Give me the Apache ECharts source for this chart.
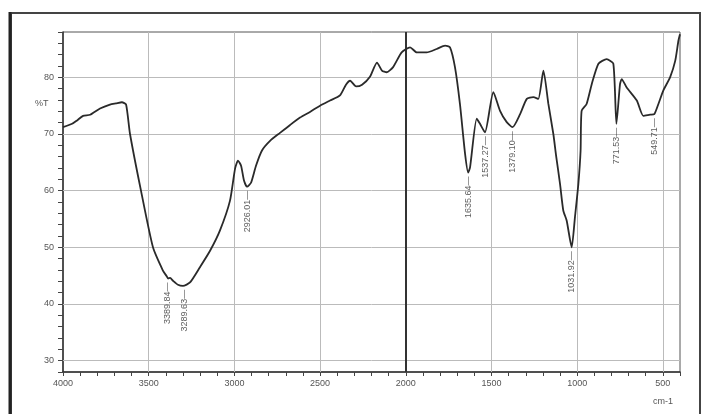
<!DOCTYPE html>
<html><head><meta charset="utf-8">
<script src="https://cdn.jsdelivr.net/npm/echarts@6/dist/echarts.min.js"></script>
<style>html,body{margin:0;padding:0;background:#fff}#c{width:706px;height:414px}</style>
</head><body><div id="c"></div>
<script>
// wavenumber (cm-1) and %T
const wavenumbers = [4000,3947,3918,3883,3842,3784,3726,3691,3656,3632,3609,3545,3475,3417,3395,3387,3375,3358,3329,3300,3259,3201,3142,3084,3026,2996,2979,2961,2944,2926,2903,2874,2839,2792,2734,2675,2617,2559,2500,2442,2384,2349,2325,2290,2255,2209,2168,2139,2111,2074,2024,1975,1936,1878,1820,1771,1742,1713,1684,1654,1636,1625,1586,1567,1538,1489,1450,1411,1377,1333,1294,1256,1227,1197,1168,1139,1123,1100,1081,1061,1032,1013,993,980,974,945,915,876,828,789,771,750,740,711,652,614,575,550,526,497,458,428,409,400];
const transmittance = [71.2,71.8,72.4,73.2,73.4,74.5,75.2,75.4,75.6,75.2,70.0,60.0,50.0,45.9,44.9,44.5,44.6,44.1,43.4,43.2,43.8,46.5,49.4,53.0,58.2,63.9,65.3,64.4,61.8,60.7,61.4,64.4,67.1,68.8,70.2,71.6,72.9,73.9,75.0,75.9,76.8,78.7,79.4,78.4,78.7,80.1,82.6,81.2,80.9,81.8,84.4,85.3,84.4,84.4,85.0,85.6,85.3,81.8,75.3,66.5,63.2,64.1,72.7,71.8,70.3,77.4,74.1,72.1,71.2,73.5,76.2,76.5,76.2,81.2,75.3,70.0,66.2,61.2,56.5,54.7,50.0,55.3,61.2,67.1,74.1,75.3,78.8,82.4,83.2,82.4,71.8,78.8,79.7,78.2,75.9,73.2,73.4,73.5,75.3,77.7,80.0,82.9,86.5,87.6];
const peakLabels = ['3389.84','3289.63','2926.01','1635.64','1537.27','1379.10','1031.92','771.53','549.71'];
const peakWn = [3389.84,3289.63,2926.01,1635.64,1537.27,1379.10,1031.92,771.53,549.71];
const peakT = [44.5,43.2,60.7,63.2,70.3,71.2,50.0,71.8,73.5];
const xGridValues = [3500,3000,2500,1500,1000,500];
const yGridValues = [30,40,50,60,70,80];
const xTickLabels = [4000,3500,3000,2500,2000,1500,1000,500];
const yTickLabels = [30,40,50,60,70,80];

const chart = echarts.init(document.getElementById('c'));
const lineData = wavenumbers.map((w,i)=>[w,transmittance[i]]);
const peakData = peakWn.map((w,i)=>({value:[w,peakT[i]], name:peakLabels[i]}));
const gridLines = xGridValues.map(v=>({xAxis:v})).concat(yGridValues.map(v=>({yAxis:v})));

chart.setOption({
  animation:false,
  grid:{left:63,right:26,top:32,bottom:42,show:true,borderColor:'#555',borderWidth:1},
  xAxis:{type:'value',min:400,max:4000,inverse:true,interval:100,
    axisLine:{onZero:false,lineStyle:{color:'#333',width:1.5}},
    axisTick:{length:4,lineStyle:{color:'#444'}},
    axisLabel:{color:'#555',fontSize:9,fontFamily:'Liberation Sans',margin:7,
      formatter:v=>xTickLabels.indexOf(v)>=0?String(v):''},
    splitLine:{show:false}},
  yAxis:{type:'value',min:28,max:88,interval:2,
    axisLine:{show:true,lineStyle:{color:'#333',width:1.5}},
    axisTick:{show:true,length:5,lineStyle:{color:'#444'}},
    axisLabel:{color:'#555',fontSize:9,fontFamily:'Liberation Sans',margin:9,
      formatter:v=>yTickLabels.indexOf(v)>=0?String(v):''},
    splitLine:{show:false}},
  series:[
    {type:'line',data:lineData,showSymbol:false,symbol:'none',smooth:0.2,
     lineStyle:{color:'#2a2a2a',width:1.8},z:5,
     markLine:{silent:true,symbol:'none',label:{show:false},animation:false,
       lineStyle:{color:'#bbb',width:1,type:'solid'},data:gridLines.concat([{xAxis:2000,lineStyle:{color:'#333',width:2}}])}},
    {type:'scatter',data:peakData,symbolSize:0,z:6,
     label:{show:true,rotate:90,align:'right',verticalAlign:'middle',offset:[-4,0],
       position:'inside',color:'#333',fontSize:9,fontFamily:'Liberation Sans',
       formatter:p=>p.name+'\u2014'}}
  ],
  graphic:[
    {type:'rect',shape:{x:11,y:13,width:689,height:410},style:{fill:'none',stroke:'#444',lineWidth:2},z:0},
    {type:'line',shape:{x1:10,y1:12,x2:10,y2:414},style:{stroke:'#222',lineWidth:3}},
    {type:'text',left:35,top:99,style:{text:'%T',fill:'#555',fontSize:9,fontFamily:'Liberation Sans'}},
    {type:'text',left:653,top:397,style:{text:'cm-1',fill:'#555',fontSize:9,fontFamily:'Liberation Sans'}}
  ]
});
</script></body></html>
